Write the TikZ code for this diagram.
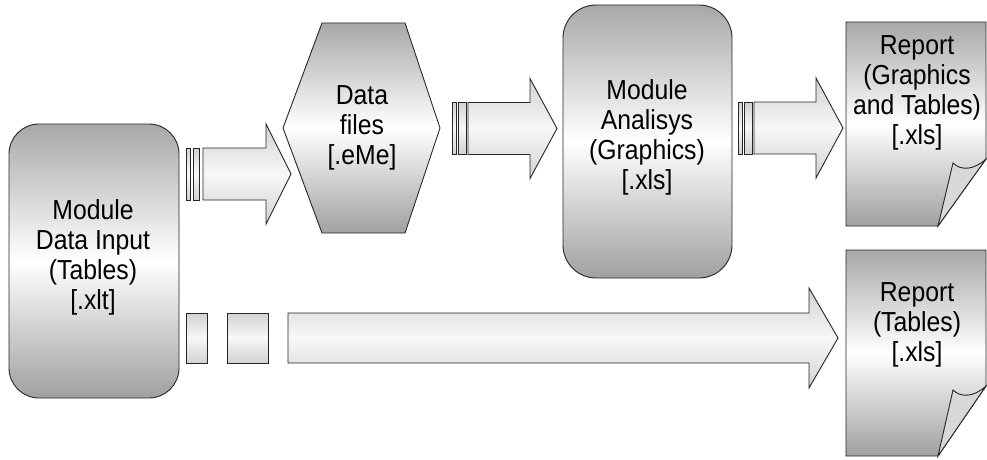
\documentclass[tikz,border=0pt]{standalone}
\usepackage{fontspec}
\setmainfont{Liberation Sans}[FakeStretch=0.9]
\definecolor{shadeedge}{HTML}{A8A8A8}
\definecolor{shadebot}{HTML}{A0A0A0}
\definecolor{arrowedge}{HTML}{D2D2D2}
\definecolor{flapc}{HTML}{D8D8D8}
\tikzset{
  outline/.style={draw=black!85, line width=0.9pt},
  boxshade/.style={outline, top color=shadeedge, bottom color=shadebot, middle color=white},
  arrowshade/.style={outline, top color=arrowedge, bottom color=arrowedge, middle color=white!97!black},
  txt/.style={font=\fontsize{27.5}{30}\selectfont, align=center, inner sep=0pt, text=black},
  boxnode/.style={boxshade, inner sep=0pt, outer sep=0pt},
}
% block arrow: #1 body start x, #2 head base x, #3 tip x, #4 centre y, #5 body half height
\newcommand\myblockarrow[5]{%
  \path[arrowshade] (#1,#4-#5) -- (#2,#4-#5) -- (#2,#4-50) -- (#3,#4) -- (#2,#4+50) -- (#2,#4+#5) -- (#1,#4+#5) -- cycle;}
\begin{document}
\begin{tikzpicture}[x=1pt,y=1pt]
\useasboundingbox (0,0) rectangle (987,459);

% Module Data Input
\node[boxnode, rounded corners=30pt, minimum width=170pt, minimum height=274pt] (input) at (94,198) {};
\node[txt] (inputtxt) at (93,201.5) {Module\\Data Input\\(Tables)\\{[.xlt]}};

% Data files hexagon
\path[boxshade] (283,331) -- (322,436) -- (405,436) -- (440,331) -- (405,226) -- (322,226) -- cycle;
\node[txt] (datafiles) at (362,331) {Data\\files\\{[.eMe]}};

% Module Analisys
\node[boxnode, rounded corners=33pt, minimum width=169pt, minimum height=273pt] (analysis) at (647.5,317.5) {};
\node[txt] (analysistxt) at (647,322) {Module\\Analisys\\(Graphics)\\{[.xls]}};

% Report 1
\path[boxshade] (846,437) -- (986,437) -- (986,300) -- (938,233) -- (846,233) -- cycle;
\path[outline, fill=flapc] (938,233) -- (953,296) .. controls (961,288) and (974,289) .. (986,300) -- cycle;
\node[txt] (report1) at (917,366) {Report\\(Graphics\\and Tables)\\{[.xls]}};

% Report 2
\path[boxshade] (846,209) -- (986,209) -- (986,73) -- (938,3) -- (846,3) -- cycle;
\path[outline, fill=flapc] (938,3) -- (953,69) .. controls (961,61) and (974,62) .. (986,73) -- cycle;
\node[txt] (report2) at (917,134) {Report\\(Tables)\\{[.xls]}};

% Arrow 1: input -> data files
\path[arrowshade] (186,259) rectangle (190,311);
\path[arrowshade] (193,259) rectangle (199,311);
\myblockarrow{203}{266}{291}{285}{26}

% Arrow 2: data files -> analysis
\path[arrowshade] (452,304.5) rectangle (456,356.5);
\path[arrowshade] (458,304.5) rectangle (466,356.5);
\myblockarrow{468}{530}{557}{330.5}{26}

% Arrow 3: analysis -> report 1
\path[arrowshade] (738,305) rectangle (742,357);
\path[arrowshade] (744,305) rectangle (752,357);
\myblockarrow{754}{816}{843}{331}{26}

% Arrow 4: input -> report 2
\path[arrowshade] (186,96) rectangle (207,146);
\path[arrowshade] (227,96) rectangle (268,146);
\myblockarrow{288}{809}{838}{121}{25}
\end{tikzpicture}
\end{document}
